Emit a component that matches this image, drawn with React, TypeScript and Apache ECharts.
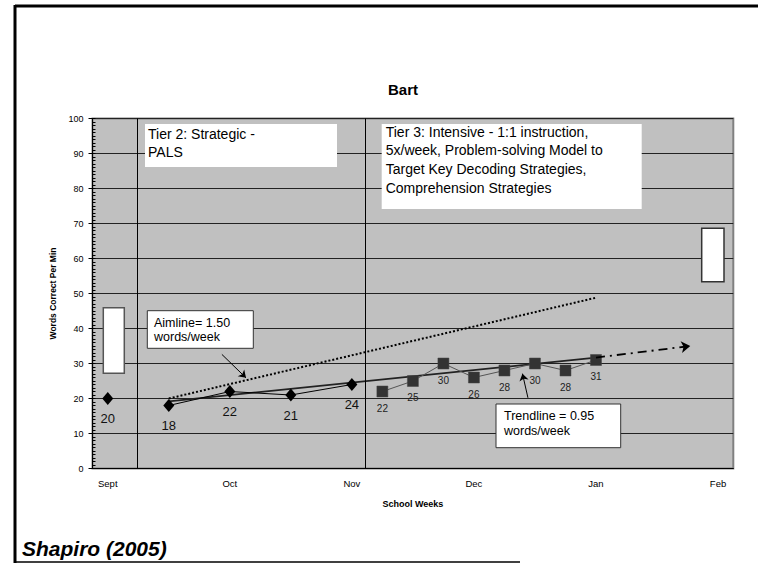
import React, { useEffect, useRef } from 'react';
import * as echarts from 'echarts';

// ---- data (week index 0 = first school week of September) ----
const weekCategories = ['Sept', '', '', '', 'Oct', '', '', '', 'Nov', '', '', '', 'Dec', '', '', '', 'Jan', '', '', '', 'Feb'];
const baselineWeeks = [0];
const baselineScores = [20];
const tier2Weeks = [2, 4, 6, 8];
const tier2Scores = [18, 22, 21, 24];
const tier3Weeks = [9, 10, 11, 12, 13, 14, 15, 16];
const tier3Scores = [22, 25, 30, 26, 28, 30, 28, 31];
const aimlineWeeks = [2, 16];
const aimlineScores = [20, 48.8];
const trendWeeks = [2, 16];
const trendScores = [19.2, 31.7];
const projectionWeeks = [16, 19.09];
const projectionScores = [31.7, 35];
const phaseChangeWeeks = [0.97, 8.43];
const aimArrowWeeks = [3.74, 4.53];
const aimArrowScores = [32.6, 25.9];
const trendArrowWeeks = [13.77, 13.59];
const trendArrowScores = [20.2, 27.1];

const FONT = '"Liberation Sans", Arial, Helvetica, sans-serif';
const wx = (w: number) => w + 0.5;
const pairs = (ws: number[], vs: number[]) => ws.map((w, i) => [wx(w), vs[i]]);

export default function App() {
  const ref = useRef<HTMLDivElement>(null);
  useEffect(() => {
    if (!ref.current) return;
    const chart = echarts.init(ref.current, null, { renderer: 'svg' });
    const valueLabel = (p: any) => String(p.value[1]);
    const option: any = {
      animation: false,
      backgroundColor: '#fff',
      textStyle: { fontFamily: FONT },
      grid: {
        left: 92.5, top: 118.5, width: 640.8, height: 350,
        show: true, backgroundColor: '#C0C0C0', borderColor: '#808080', borderWidth: 2,
      },
      xAxis: [
        {
          type: 'category', data: weekCategories, position: 'bottom', boundaryGap: true,
          axisLine: { onZero: false, lineStyle: { color: '#000', width: 1 } },
          axisTick: { interval: 0, length: 4, lineStyle: { color: '#000' } },
          axisLabel: { interval: 0, margin: 10, fontSize: 9.5, color: '#000', fontFamily: FONT },
          splitLine: { show: false },
          name: 'School Weeks', nameLocation: 'middle', nameGap: 31,
          nameTextStyle: { fontSize: 9, fontWeight: 'bold', color: '#000', fontFamily: FONT },
        },
        { type: 'value', min: 0, max: 21, position: 'bottom', show: false },
      ],
      yAxis: [
        {
          type: 'value', min: 0, max: 100, interval: 10, position: 'left',
          axisLine: { show: true, onZero: false, lineStyle: { color: '#000', width: 1 } },
          axisTick: { show: true, length: 4, lineStyle: { color: '#000' } },
          axisLabel: { margin: 9, fontSize: 9, color: '#000', fontFamily: FONT },
          splitLine: { show: true, lineStyle: { color: '#222', width: 1 } },
          name: 'Words Correct Per Min', nameLocation: 'middle', nameGap: 28,
          nameTextStyle: { fontSize: 8.5, fontWeight: 'bold', color: '#000', fontFamily: FONT },
        },
        {
          type: 'value', min: 0, max: 100, interval: 1, position: 'left',
          axisLine: { show: false, onZero: false },
          axisTick: { show: true, inside: true, length: 3, lineStyle: { color: '#000' } },
          axisLabel: { show: false },
          splitLine: { show: false },
        },
      ],
      series: [
        {
          name: 'Aimline', type: 'line', xAxisIndex: 1, yAxisIndex: 0,
          data: pairs(aimlineWeeks, aimlineScores), symbol: 'none',
          lineStyle: { color: '#000', width: 2, type: [2, 2] },
          markLine: {
            silent: true, animation: false, symbol: ['none', 'arrow'], symbolSize: 7,
            label: { show: false },
            lineStyle: { color: '#000', width: 1, type: 'solid' },
            data: [
              [{ coord: [wx(aimArrowWeeks[0]), aimArrowScores[0]] }, { coord: [wx(aimArrowWeeks[1]), aimArrowScores[1]] }],
              [{ coord: [wx(trendArrowWeeks[0]), trendArrowScores[0]] }, { coord: [wx(trendArrowWeeks[1]), trendArrowScores[1]] }],
            ],
          },
        },
        {
          name: 'Trendline', type: 'line', xAxisIndex: 1, yAxisIndex: 0,
          data: pairs(trendWeeks, trendScores), symbol: 'none',
          lineStyle: { color: '#222', width: 1.8 },
          markLine: {
            silent: true, animation: false, symbol: ['none', 'arrow'], symbolSize: 9,
            label: { show: false },
            lineStyle: { color: '#000', width: 1.8, type: [9, 5, 2, 5] },
            data: [
              [{ coord: [wx(projectionWeeks[0]), projectionScores[0]] }, { coord: [wx(projectionWeeks[1]), projectionScores[1]] }],
            ],
          },
        },
        {
          name: 'Tier 3', type: 'line', xAxisIndex: 1, yAxisIndex: 0,
          data: pairs(tier3Weeks, tier3Scores), symbol: 'rect', symbolSize: 11,
          itemStyle: { color: '#333', borderColor: '#444', borderWidth: 0.5 },
          lineStyle: { color: '#555', width: 1 },
          label: { show: true, position: 'bottom', distance: 6, fontSize: 10, color: '#222', fontFamily: FONT, formatter: valueLabel },
        },
        {
          name: 'Tier 2', type: 'line', xAxisIndex: 1, yAxisIndex: 0,
          data: pairs(tier2Weeks, tier2Scores), symbol: 'diamond', symbolSize: [11, 13],
          itemStyle: { color: '#000' },
          lineStyle: { color: '#000', width: 1 },
          label: { show: true, position: 'bottom', distance: 7, fontSize: 13, color: '#111', fontFamily: FONT, formatter: valueLabel },
          markLine: {
            silent: true, animation: false, symbol: 'none', label: { show: false },
            lineStyle: { color: '#000', width: 1, type: 'solid' },
            data: phaseChangeWeeks.map((w) => ({ xAxis: wx(w) })),
          },
        },
        {
          name: 'Baseline', type: 'line', xAxisIndex: 1, yAxisIndex: 0,
          data: pairs(baselineWeeks, baselineScores), symbol: 'diamond', symbolSize: [11, 13],
          itemStyle: { color: '#000' },
          label: { show: true, position: 'bottom', distance: 7, fontSize: 13, color: '#111', fontFamily: FONT, formatter: valueLabel },
        },
      ],
      graphic: [
        { type: 'line', z: 100, shape: { x1: 15, y1: 6, x2: 758, y2: 6 }, style: { stroke: '#000', lineWidth: 3 } },
        { type: 'line', z: 100, shape: { x1: 15, y1: 5, x2: 15, y2: 563 }, style: { stroke: '#000', lineWidth: 3 } },
        { type: 'line', z: 100, shape: { x1: 15, y1: 562, x2: 520, y2: 562 }, style: { stroke: '#000', lineWidth: 1.5 } },
        { type: 'text', z: 100, x: 403, y: 89, style: { text: 'Bart', font: `bold 15px ${FONT}`, textAlign: 'center', textVerticalAlign: 'middle', fill: '#000' } },
        { type: 'text', z: 100, x: 22, y: 548, style: { text: 'Shapiro (2005)', font: `italic bold 21px ${FONT}`, textAlign: 'left', textVerticalAlign: 'middle', fill: '#000' } },
        // phase boxes
        { type: 'rect', z: 100, shape: { x: 145, y: 124, width: 192, height: 43 }, style: { fill: '#fff' } },
        { type: 'text', z: 101, x: 148, y: 125.2, style: { text: 'Tier 2: Strategic -\nPALS', font: `14px ${FONT}`, lineHeight: 17.7, textAlign: 'left', textVerticalAlign: 'top', fill: '#000' } },
        { type: 'rect', z: 100, shape: { x: 381.7, y: 124, width: 260, height: 85 }, style: { fill: '#fff' } },
        { type: 'text', z: 101, x: 385.7, y: 122.3, style: { text: 'Tier 3: Intensive - 1:1 instruction,\n5x/week, Problem-solving Model to\nTarget Key Decoding Strategies,\nComprehension Strategies', font: `14px ${FONT}`, lineHeight: 18.8, textAlign: 'left', textVerticalAlign: 'top', fill: '#000' } },
        // callout boxes
        { type: 'rect', z: 100, shape: { x: 147.3, y: 310.7, width: 106, height: 37.6 }, style: { fill: '#fff', stroke: '#333', lineWidth: 1 } },
        { type: 'text', z: 101, x: 154, y: 316.3, style: { text: 'Aimline= 1.50\nwords/week', font: `12.5px ${FONT}`, lineHeight: 14, textAlign: 'left', textVerticalAlign: 'top', fill: '#000' } },
        { type: 'rect', z: 100, shape: { x: 496, y: 404, width: 124.7, height: 43.7 }, style: { fill: '#fff', stroke: '#333', lineWidth: 1 } },
        { type: 'text', z: 101, x: 504, y: 408.5, style: { text: 'Trendline = 0.95\nwords/week', font: `12.5px ${FONT}`, lineHeight: 15, textAlign: 'left', textVerticalAlign: 'top', fill: '#000' } },
        // white range boxes
        { type: 'rect', z: 100, shape: { x: 103.3, y: 307.7, width: 21, height: 65.6 }, style: { fill: '#fff', stroke: '#555', lineWidth: 1.5 } },
        { type: 'rect', z: 100, shape: { x: 701.7, y: 228.3, width: 22.3, height: 53.4 }, style: { fill: '#fff', stroke: '#333', lineWidth: 1.5 } },
      ],
    };
    chart.setOption(option);
    return () => chart.dispose();
  }, []);
  return (
    <div
      ref={ref}
      style={{ position: 'fixed', left: 0, top: 0, width: 758, height: 565, background: '#fff' }}
    />
  );
}
